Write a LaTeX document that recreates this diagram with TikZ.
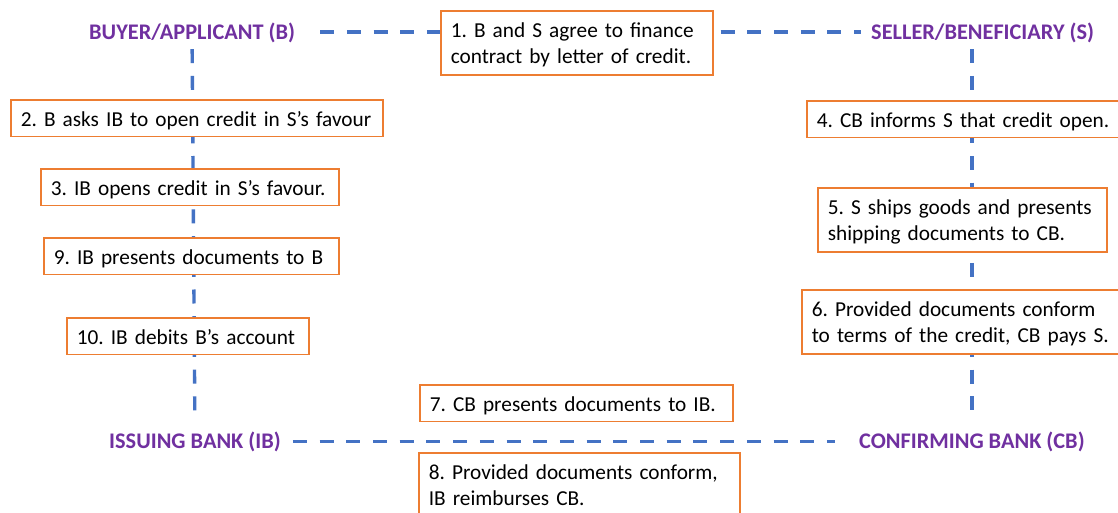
\documentclass[tikz,border=0pt]{standalone}
\usepackage{fontspec}
\setmainfont{Carlito}
\frenchspacing
\definecolor{lineblue}{HTML}{4472C4}
\definecolor{boxorange}{HTML}{ED7D31}
\definecolor{partypurple}{HTML}{7030A0}
\begin{document}
\begin{tikzpicture}[x=1pt,y=-1pt,
  every node/.style={font=\fontsize{21.3}{26}\selectfont\frenchspacing},
  party/.style={text=partypurple, font=\fontsize{22.3}{26}\selectfont\bfseries,
    inner sep=0pt, text height=14.4pt, text depth=0pt, anchor=base west},
  conn/.style={draw=lineblue, line width=3.4pt, dash pattern=on 14pt off 12.7pt},
  stepbox/.style={draw=boxorange, line width=1.5pt, fill=white, anchor=north west,
    align=left, inner xsep=10pt, inner ysep=0pt},
  oneline/.style={stepbox, text height=21pt, text depth=4pt, minimum height=36.5pt},
  twoline/.style={stepbox, text height=18.6pt, text depth=30pt, minimum height=64pt},
]
\useasboundingbox (0,0) rectangle (1118,512);
\clip (0,0) rectangle (1118,512);
\fill[white] (0,0) rectangle (1118,512);

% parties
\node[party] (B)  at (89,39)    {BUYER/APPLICANT (B)};
\node[party] (S)  at (871,39)   {SELLER/BENEFICIARY (S)};
\node[party] (IB) at (109,448.5) {ISSUING BANK (IB)};
\node[party] (CB) at (859,448.5) {CONFIRMING BANK (CB)};

% connectors
\draw[conn] ([xshift=25pt]B.east) -- ([xshift=-10pt]S.west);
\draw[conn] ([xshift=12pt]IB.east) -- ([xshift=-24pt]CB.west);
\draw[conn, shorten <=10pt, shorten >=13pt] (B.south) -- (IB.north);
\draw[conn, shorten <=10pt, shorten >=13pt] (S.south -| CB.north) -- (CB.north);

% steps
\node[twoline, text width=252pt] (s1) at (440,10)
  {\mbox{1. B and S agree to finance}\\\mbox{contract by letter of credit.}};
\node[oneline, text width=352pt] (s2) at (10,99)
  {\mbox{2. B asks IB to open credit in S’s favour}};
\node[oneline, text width=278pt] (s3) at (40,168)
  {\mbox{3. IB opens credit in S’s favour.}};
\node[oneline, text width=275pt] (s9) at (43,237)
  {\mbox{9. IB presents documents to B}};
\node[oneline, text width=222pt] (s10) at (66,317)
  {\mbox{10. IB debits B’s account}};
\node[oneline, text width=296pt] (s4) at (806,100)
  {\mbox{4. CB informs S that credit open.}};
\node[twoline, text width=269pt] (s5) at (817,187)
  {\mbox{5. S ships goods and presents}\\\mbox{shipping documents to CB.}};
\node[twoline, text width=301pt] (s6) at (801,289)
  {\mbox{6. Provided documents conform}\\\mbox{to terms of the credit, CB pays S.}};
\node[oneline, text width=293pt] (s7) at (419,384)
  {\mbox{7. CB presents documents to IB.}};
\node[twoline, text width=301pt] (s8) at (418,452)
  {\mbox{8. Provided documents conform,}\\\mbox{IB reimburses CB.}};
\end{tikzpicture}
\end{document}
